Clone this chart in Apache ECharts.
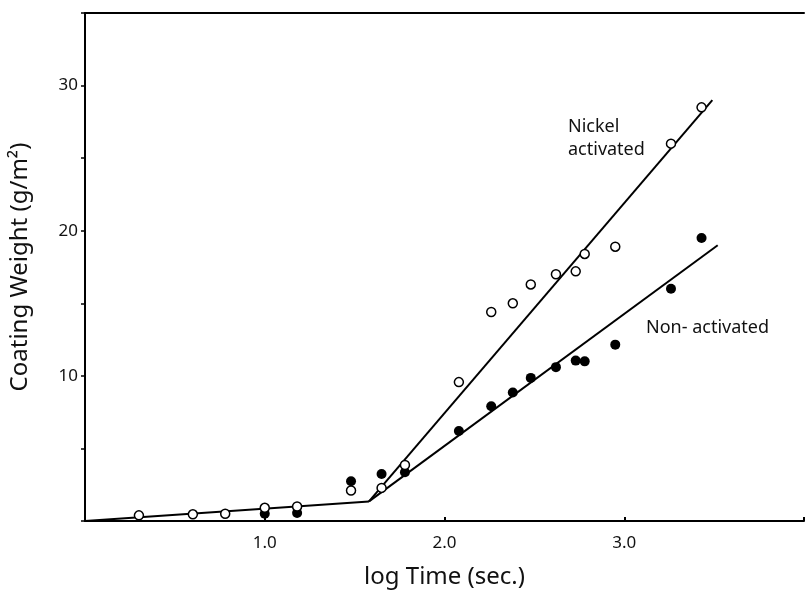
<!DOCTYPE html>
<html lang="en">
<head>
    <meta charset="UTF-8">
    <title>Coating weight vs log time</title>
    <style>
        html, body { margin: 0; padding: 0; background: #fff; }
        #chart { width: 807px; height: 594px; }
    </style>
</head>
<body>
    <div id="chart"></div>
    <script src="https://cdn.jsdelivr.net/npm/echarts@6/dist/echarts.min.js"></script>
    <script>
        // log time values (sec.), shared by both sets of points
        var logTime = [0.30, 0.60, 0.78, 1.00, 1.18, 1.48, 1.65, 1.78, 2.08, 2.26, 2.38, 2.48, 2.62, 2.73, 2.78, 2.95, 3.26, 3.43];
        // open circles - nickel activated
        var nickelWeight = [0.39, 0.46, 0.50, 0.91, 1.00, 2.10, 2.28, 3.86, 9.57, 14.4, 15.0, 16.3, 17.0, 17.2, 18.4, 18.9, 26.0, 28.5];
        // filled circles - non-activated (no points at the first three times)
        var nonActTime = [1.00, 1.18, 1.48, 1.65, 1.78, 2.08, 2.26, 2.38, 2.48, 2.62, 2.73, 2.78, 2.95, 3.26, 3.43];
        var nonActWeight = [0.50, 0.55, 2.74, 3.24, 3.36, 6.20, 7.90, 8.85, 9.86, 10.6, 11.05, 11.0, 12.15, 16.0, 19.5];
        // fitted lines
        var commonFit = [[0, 0], [1.58, 1.35]];
        var nickelFit = [[1.58, 1.35], [3.49, 29.0]];
        var nonActFit = [[1.58, 1.35], [3.52, 19.0]];
        var xTicks = [1.0, 2.0, 3.0];
        var yTicks = [10, 20, 30];

        function pairs(xs, ys) {
            return xs.map(function (x, i) { return [x, ys[i]]; });
        }

        var font = 'Noto Sans';
        var chart = echarts.init(document.getElementById('chart'));

        var lineStyle = { color: '#000', width: 2 };
        function fitLine(name, data) {
            return {
                name: name, type: 'line', data: data, symbol: 'none',
                lineStyle: lineStyle, z: 2, silent: true, animation: false
            };
        }

        var option = {
            animation: false,
            backgroundColor: '#fff',
            grid: { left: 83, right: 0, top: 13, bottom: 70, containLabel: false },
            xAxis: [{
                type: 'value', min: 0, max: 4, interval: 1,
                axisLine: { lineStyle: { color: '#000', width: 2 } },
                axisTick: { inside: true, length: 4, lineStyle: { color: '#000', width: 2 } },
                splitLine: { show: false },
                axisLabel: {
                    color: '#111', fontFamily: font, fontSize: 17, margin: 14,
                    formatter: function (v) { return xTicks.indexOf(v) >= 0 ? v.toFixed(1) : ''; }
                },
                name: 'log Time (sec.)', nameLocation: 'middle', nameGap: 44,
                nameTextStyle: { color: '#111', fontFamily: font, fontSize: 24 }
            }, {
                type: 'value', position: 'top', min: 0, max: 4,
                axisLine: { show: true, lineStyle: { color: '#000', width: 2 } },
                axisTick: { show: false }, axisLabel: { show: false }, splitLine: { show: false }
            }],
            yAxis: {
                type: 'value', min: 0, max: 35, interval: 5,
                axisLine: { lineStyle: { color: '#000', width: 2 } },
                axisTick: { length: 4, lineStyle: { color: '#000', width: 1.5 },
                    interval: function (i, v) { return yTicks.indexOf(v) >= 0; } },
                splitLine: { show: false },
                axisLabel: {
                    color: '#111', fontFamily: font, fontSize: 17, margin: 7,
                    formatter: function (v) { return yTicks.indexOf(v) >= 0 ? String(v) : ''; }
                },
                name: 'Coating Weight (g/m²)', nameLocation: 'middle', nameGap: 53,
                nameTextStyle: { color: '#111', fontFamily: font, fontSize: 24 }
            },
            series: [
                fitLine('fit', commonFit),
                fitLine('nickel fit', nickelFit),
                fitLine('non-activated fit', nonActFit),
                {
                    name: 'Non-activated', type: 'scatter', data: pairs(nonActTime, nonActWeight),
                    symbol: 'circle', symbolSize: 10, z: 3,
                    itemStyle: { color: '#000', opacity: 1 }
                },
                {
                    name: 'Nickel activated', type: 'scatter', data: pairs(logTime, nickelWeight),
                    symbol: 'circle', symbolSize: 9, z: 4,
                    itemStyle: { color: '#fff', borderColor: '#000', borderWidth: 1.5, opacity: 1 }
                }
            ],
            graphic: [
                { type: 'text', left: 568, top: 115,
                  style: { text: 'Nickel\nactivated', fill: '#111', font: '18px "Noto Sans"', lineHeight: 23 } },
                { type: 'text', left: 646, top: 319,
                  style: { text: 'Non- activated', fill: '#111', font: '18px "Noto Sans"' } }
            ]
        };
        chart.setOption(option);
    </script>
</body>
</html>
